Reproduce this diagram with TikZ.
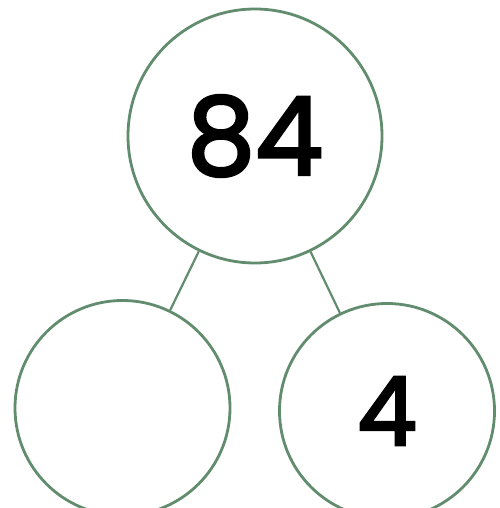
\documentclass[tikz,border=0pt]{standalone}
\usepackage{fontspec}
\setmainfont{Poppins}
\newfontfamily\digitfont{Poppins}[FakeBold=2.8]
\usepackage{xcolor}
\definecolor{bondgreen}{RGB}{98,140,110}
\usetikzlibrary{positioning}

\begin{document}
\begin{tikzpicture}[x=1pt, y=-1pt,
  part/.style={draw=bondgreen, circle, line width=2.8pt, inner sep=0pt},
  big/.style={part, minimum size=254pt, font=\digitfont\fontsize{108}{108}\selectfont},
  small/.style={part, minimum size=215pt, font=\digitfont\fontsize{95}{95}\selectfont},
  bond/.style={draw=bondgreen, line width=2.2pt}]
\useasboundingbox (0,0) rectangle (499,508);
\clip (0,0) rectangle (499,508);
\node[big] (whole) at (255,136) {84};
\node[small] (partA) at (122.5,408) {};
\node[small] (partB) at (387,411) {4};
\draw[bond] (whole)--(partA); \draw[bond] (whole)--(partB);
\end{tikzpicture}
\end{document}
